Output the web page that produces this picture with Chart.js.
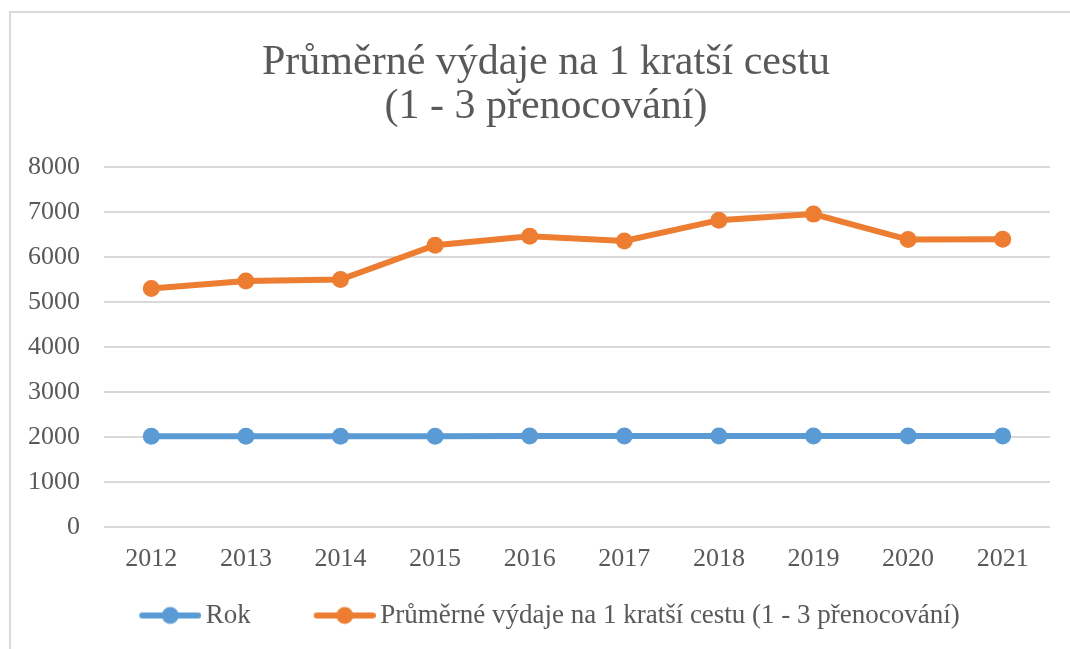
<!DOCTYPE html>
<html>
<head>
<meta charset="utf-8">
<script src="https://cdn.jsdelivr.net/npm/chart.js@4"></script>
<style>
  html, body { margin: 0; padding: 0; background: #fff; }
  #frame {
    position: absolute; left: 9px; top: 11px; width: 1080px; height: 660px;
    border: 2px solid #d9d9d9; box-sizing: border-box;
  }
  #wrap { position: absolute; left: 0; top: 0; width: 1070px; height: 649px; }
</style>
</head>
<body>
<div id="frame"></div>
<div id="wrap"><canvas id="chart"></canvas></div>
<script>
const years = ["2012", "2013", "2014", "2015", "2016", "2017", "2018", "2019", "2020", "2021"];
const rokValues = [2012, 2013, 2014, 2015, 2016, 2017, 2018, 2019, 2020, 2021];
const vydajeValues = [5295, 5465, 5495, 6260, 6460, 6355, 6815, 6950, 6385, 6390];
const titleLines = ["Průměrné výdaje na 1 kratší cestu", "(1 - 3 přenocování)"];

const blue = "#5b9bd5";
const orange = "#ed7d31";
const grey = "#595959";
const serif = "'Liberation Serif', 'Times New Roman', serif";

// legend marker: thick line with a dot, drawn at the right end of a wider
// transparent image so the gap between legend entries comes out right
function marker(color) {
  const c = document.createElement("canvas");
  c.width = 116; c.height = 20;
  const ctx = c.getContext("2d");
  const x0 = 54;
  ctx.strokeStyle = color;
  ctx.lineWidth = 6;
  ctx.lineCap = "round";
  ctx.beginPath();
  ctx.moveTo(x0 + 3, 10); ctx.lineTo(x0 + 59, 10);
  ctx.stroke();
  ctx.fillStyle = color;
  ctx.beginPath();
  ctx.arc(x0 + 31, 10, 8.5, 0, Math.PI * 2);
  ctx.fill();
  return c;
}
const markers = [marker(blue), marker(orange)];

// title sits a bit right of the plot centre in the original
const shiftTitle = {
  id: "shiftTitle",
  afterLayout(chart) {
    chart.titleBlock.left += 19;
    chart.titleBlock.right += 19;
  }
};

new Chart(document.getElementById("chart"), {
  type: "line",
  data: {
    labels: years,
    datasets: [
      {
        label: "Rok",
        data: rokValues,
        borderColor: blue,
        backgroundColor: blue,
        borderWidth: 6,
        pointRadius: 8.5,
        pointBorderWidth: 0
      },
      {
        label: "Průměrné výdaje na 1 kratší cestu (1 - 3 přenocování)",
        data: vydajeValues,
        borderColor: orange,
        backgroundColor: orange,
        borderWidth: 6,
        pointRadius: 8.5,
        pointBorderWidth: 0
      }
    ]
  },
  plugins: [shiftTitle],
  options: {
    responsive: true,
    maintainAspectRatio: false,
    animation: false,
    layout: { padding: { left: 4, right: 20, top: 40, bottom: 10 } },
    plugins: {
      title: {
        display: true,
        text: titleLines,
        color: grey,
        font: { family: serif, size: 42, weight: "normal", lineHeight: 1.07 },
        padding: { top: 0, bottom: 37 }
      },
      legend: {
        position: "bottom",
        labels: {
          usePointStyle: true,
          pointStyleWidth: 98,
          boxHeight: 20,
          color: grey,
          font: { family: serif, size: 27 },
          padding: 18,
          generateLabels(chart) {
            return chart.data.datasets.map((ds, i) => ({
              text: ds.label,
              fillStyle: ds.backgroundColor,
              strokeStyle: ds.borderColor,
              lineWidth: 0,
              pointStyle: markers[i],
              fontColor: grey,
              datasetIndex: i
            }));
          }
        }
      },
      tooltip: { enabled: false }
    },
    scales: {
      x: {
        offset: true,
        grid: { display: false },
        border: { display: false },
        ticks: { color: grey, font: { family: serif, size: 26 }, padding: 9 }
      },
      y: {
        min: 0,
        max: 8000,
        ticks: {
          stepSize: 1000,
          color: grey,
          font: { family: serif, size: 26 },
          padding: 24,
          callback: v => String(v)
        },
        grid: { color: "#d9d9d9", lineWidth: 2, drawTicks: false },
        border: { display: false }
      }
    }
  }
});
</script>
</body>
</html>
